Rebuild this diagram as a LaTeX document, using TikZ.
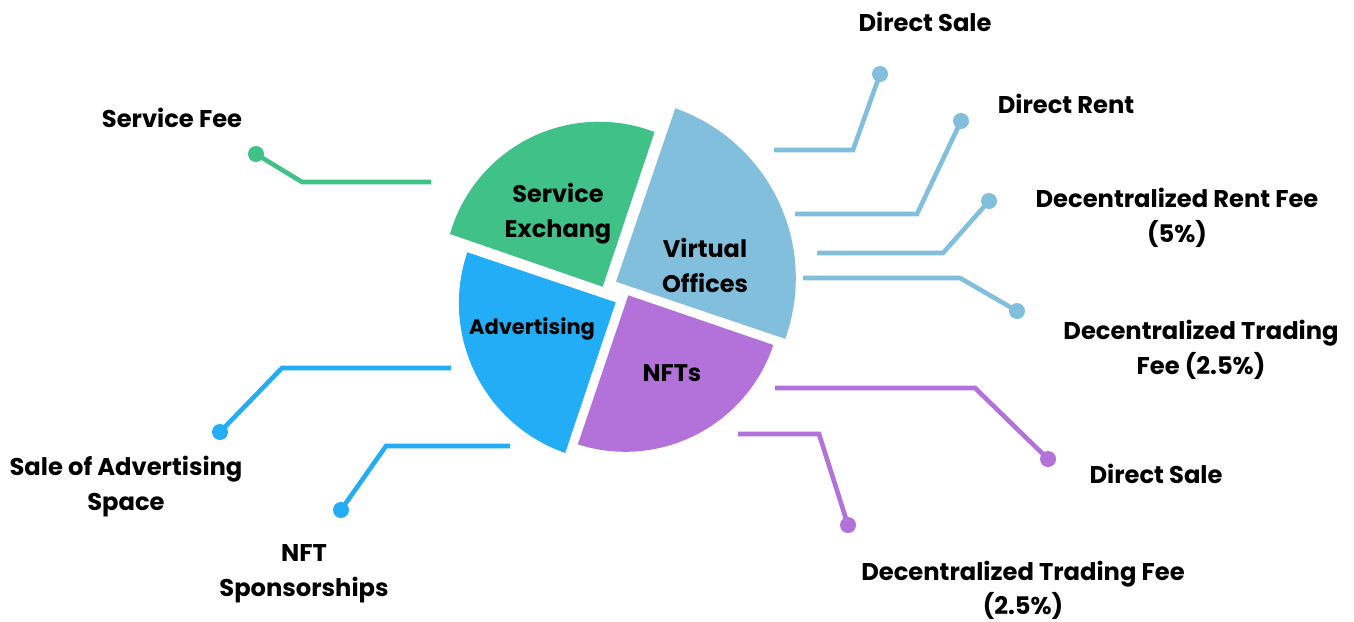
\documentclass[tikz,border=0pt]{standalone}
\usepackage{fontspec}
\setmainfont{Poppins}[BoldFont={Poppins Bold}]
\definecolor{lb}{HTML}{82BFDD}
\definecolor{gr}{HTML}{40C188}
\definecolor{bl}{HTML}{22ADF6}
\definecolor{pu}{HTML}{B272D9}
\tikzset{
  lab/.style={inner sep=0pt,align=center,font=\fontsize{24.2}{34.5}\selectfont\bfseries,text=black},
  inlab/.style={inner sep=0pt,align=center,font=\fontsize{24}{35.5}\selectfont\bfseries,text=black},
  inlabsmall/.style={inner sep=0pt,align=center,font=\fontsize{21}{26}\selectfont\bfseries,text=black},
  lead/.style={line width=4.6pt,line join=miter},
  dot/.style={circle,inner sep=0pt,minimum size=16pt,fill=#1},
}
\begin{document}
\begin{tikzpicture}[x=1pt,y=1pt,yscale=-1]
\useasboundingbox (0,0) rectangle (1354,621);
% pie
\fill[gr] (602.7,286.7) -- (450,234) arc[start angle=-164,end angle=-69,radius=155pt] -- cycle;
\fill[bl] (615.7,302.3) -- (467.3,252.3) arc[start angle=-161.3,end angle=-250.7,radius=158.7pt] -- cycle;
\fill[pu] (628.3,295.3) -- (773.3,345) arc[start angle=18.4,end angle=107.7,radius=156pt] -- cycle;
\fill[lb] (616,281.7) -- (675.3,108.3) arc[start angle=-70.7,end angle=19.7,radius=180pt] -- cycle;
% pie labels
\node[inlab] (se) at (558,213.5) {Service\\Exchang};
\node[inlab] (vo) at (705,265.5) {Virtual\\Offices};
\node[inlabsmall] (ad) at (532,329) {Advertising};
\node[inlab] (nf) at (672,373.5) {NFTs};
% outer labels
\node[lab] (t1) at (925,21.5) {Direct Sale};
\node[lab] (t2) at (1066,103.5) {Direct Rent};
\node[lab] (t3) at (1177,218) {Decentralized Rent Fee\\(5\%)};
\node[lab] (t4) at (1201,350) {Decentralized Trading\\Fee (2.5\%)};
\node[lab] (t5) at (1156,473.5) {Direct Sale};
\node[lab] (t6) at (1023,590.5) {Decentralized Trading Fee\\(2.5\%)};
\node[lab] (t7) at (172,117.5) {Service Fee};
\node[lab] (t8) at (126,486.5) {Sale of Advertising\\Space};
\node[lab] (t9) at (304,573.5) {NFT\\Sponsorships};
% leader ends
\node[dot=lb] (d1) at (880,74) {};
\node[dot=lb] (d2) at (961,121) {};
\node[dot=lb] (d3) at (989,201) {};
\node[dot=lb] (d4) at (1017,311) {};
\node[dot=pu] (d5) at (1048,459) {};
\node[dot=pu] (d6) at (848,525) {};
\node[dot=gr] (d7) at (256,154) {};
\node[dot=bl] (d8) at (220,432) {};
\node[dot=bl] (d9) at (341,510) {};
\coordinate (s1) at (774,150); \coordinate (b1) at (853,150);
\coordinate (s2) at (795,214); \coordinate (b2) at (917,214);
\coordinate (s3) at (817,253); \coordinate (b3) at (943,253);
\coordinate (s4) at (803,278); \coordinate (b4) at (960,278);
\coordinate (s5) at (775,388); \coordinate (b5) at (975,388);
\coordinate (s6) at (738,434); \coordinate (b6) at (819,434);
\coordinate (s7) at (431,182); \coordinate (b7) at (302,182);
\coordinate (s8) at (451,368); \coordinate (b8) at (282,368);
\coordinate (s9) at (510,446); \coordinate (b9) at (386,446);
\draw[lead,lb] (s1) -- (b1) -- (d1.center);
\draw[lead,lb] (s2) -- (b2) -- (d2.center);
\draw[lead,lb] (s3) -- (b3) -- (d3.center);
\draw[lead,lb] (s4) -- (b4) -- (d4.center);
\draw[lead,pu] (s5) -- (b5) -- (d5.center);
\draw[lead,pu] (s6) -- (b6) -- (d6.center);
\draw[lead,gr] (s7) -- (b7) -- (d7.center);
\draw[lead,bl] (s8) -- (b8) -- (d8.center);
\draw[lead,bl] (s9) -- (b9) -- (d9.center);
\end{tikzpicture}
\end{document}
